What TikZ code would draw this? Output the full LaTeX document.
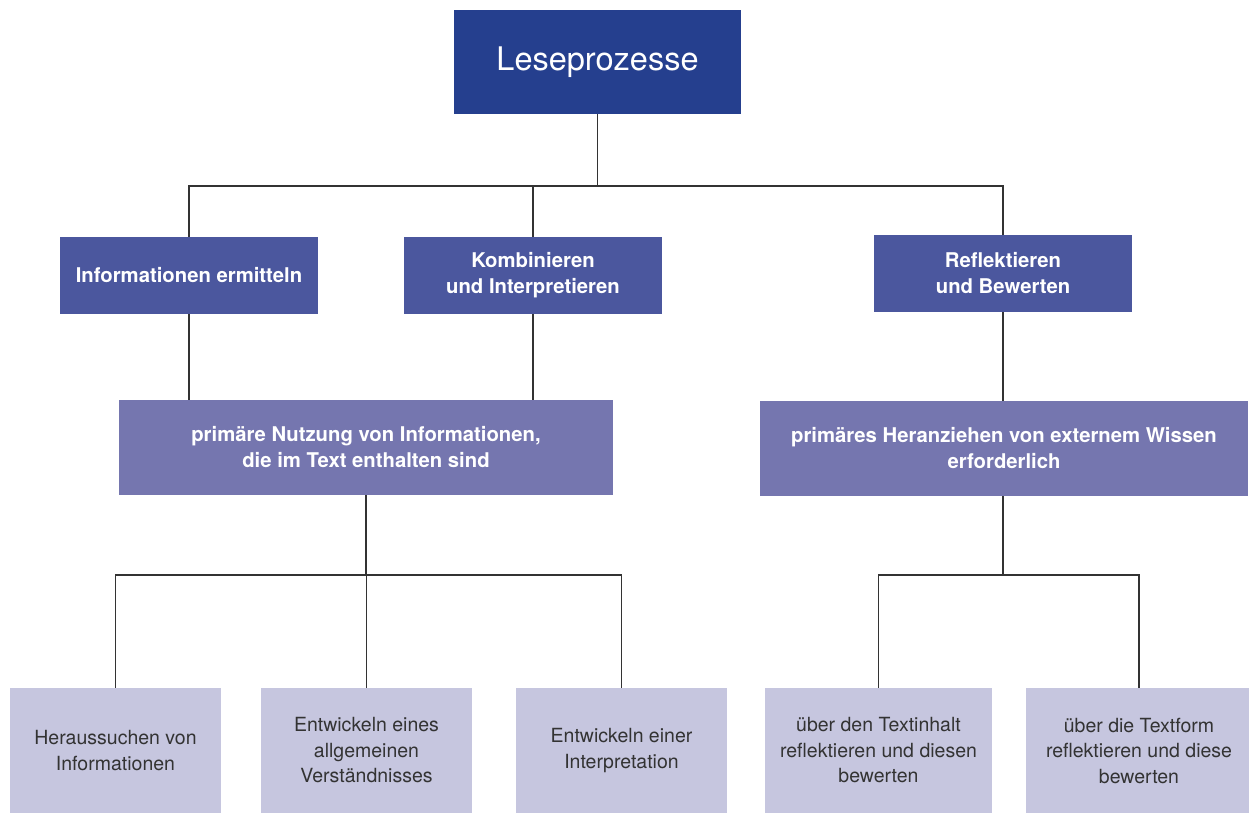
\documentclass[tikz,border=0pt]{standalone}
\usepackage{fontspec}
\setmainfont{TeX Gyre Heros}

\definecolor{tiefblau}{HTML}{253F8E}
\definecolor{mittelblau}{HTML}{4B579E}
\definecolor{hellblau}{HTML}{7576AF}
\definecolor{blassblau}{HTML}{C6C6DF}
\definecolor{liniengrau}{HTML}{333333}

\begin{document}
\begin{tikzpicture}[x=1pt, y=-1pt,
  kasten/.style={inner sep=0pt, align=center, text=white},
  haupt/.style={kasten, fill=tiefblau, minimum width=287pt, minimum height=104pt,
                font=\fontsize{32.5}{36}\selectfont},
  ebene/.style={kasten, fill=mittelblau, minimum width=258pt, minimum height=77pt,
                font=\fontsize{20.3}{26}\selectfont\bfseries},
  nutzung/.style={kasten, fill=hellblau, minimum height=95pt,
                font=\fontsize{20.3}{26}\selectfont\bfseries},
  teil/.style={kasten, fill=blassblau, text=liniengrau, minimum height=125pt,
               font=\fontsize{19.5}{25.5}\selectfont},
  linie/.style={draw=liniengrau, line width=1.2pt}]

  \useasboundingbox (0,0) rectangle (1249,814);

  % --- Oberster Kasten ---
  \node[haupt] (lese) at (597.5,62) {Leseprozesse};

  % --- Drei Prozesse ---
  \node[ebene] (ermitteln)  at (189,275.5)  {Informationen ermitteln};
  \node[ebene] (kombinieren) at (533,275.5) {Kombinieren\\und Interpretieren};
  \node[ebene] (reflektieren) at (1003,273.5) {Reflektieren\\und Bewerten};

  % --- Zwei Arten der Nutzung ---
  \node[nutzung, minimum width=494pt] (intern) at (366,447.5)
    {primäre Nutzung von Informationen,\\die im Text enthalten sind};
  \node[nutzung, minimum width=488pt] (extern) at (1004,448.5)
    {primäres Heranziehen von externem Wissen\\erforderlich};

  % --- Teilprozesse unten ---
  \node[teil, minimum width=211pt] (suchen)  at (115.5,750.5) {Heraussuchen von\\Informationen};
  \node[teil, minimum width=211pt] (verstehen) at (366.5,750.5) {Entwickeln eines\\allgemeinen\\Verständnisses};
  \node[teil, minimum width=211pt] (deuten)  at (621.5,750.5) {Entwickeln einer\\Interpretation};
  \node[teil, minimum width=227pt] (inhalt)  at (878.5,750.5) {über den Textinhalt\\reflektieren und diesen\\bewerten};
  \node[teil, minimum width=227pt] (form)    at (1139,750.5)  {über die Textform\\reflektieren und diese\\bewerten};

  % Verzweigungspunkte
  \coordinate (knotenA) at (597.5,186);
  \coordinate (knotenB) at (366,575);
  \coordinate (knotenC) at (1003,575);

  % --- Verbindungen ---
  \draw[linie] (lese) -- (knotenA);
  \draw[linie] (ermitteln.north) |- (knotenA) -| (reflektieren.north);
  \draw[linie] (kombinieren.north) -- (kombinieren.north |- knotenA);

  \draw[linie] (ermitteln.south) -- (ermitteln.south |- intern.north);
  \draw[linie] (kombinieren.south) -- (kombinieren.south |- intern.north);
  \draw[linie] (reflektieren.south) -- (reflektieren.south |- extern.north);

  \draw[linie] (intern.south) -- (knotenB);
  \draw[linie] (suchen.north) |- (knotenB) -| (deuten.north);
  \draw[linie] (verstehen.north) -- (verstehen.north |- knotenB);

  \draw[linie] (extern.south -| knotenC) -- (knotenC);
  \draw[linie] (inhalt.north) |- (knotenC) -| (form.north);

\end{tikzpicture}
\end{document}
